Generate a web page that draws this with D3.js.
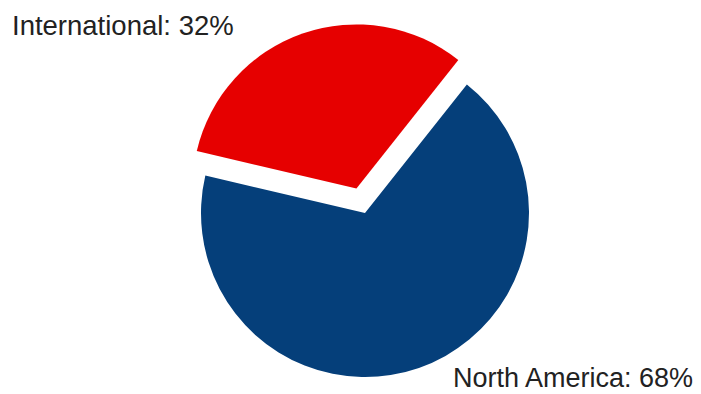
<!DOCTYPE html>
<html><head><meta charset="utf-8">
<script src="https://cdn.jsdelivr.net/npm/d3@7"></script>
<style>html,body{margin:0;padding:0;background:#fff;}</style>
</head><body>
<svg id="chart" width="701" height="394"></svg>
<script>
const categories = ["North America", "International"];
const values = [68, 32];
const colors = ["#053f7a", "#e60000"];
const labels = ["North America: 68%", "International: 32%"];

const svg = d3.select("#chart");
const cx = 365, cy = 213, R = 164, explode = 26;
const start = 38.4 * Math.PI / 180;
const pie = d3.pie().sort(null).value(d => d)
  .startAngle(start)
  .endAngle(start + 2 * Math.PI);
const arcs = pie(values);
const arc = d3.arc().innerRadius(0).outerRadius(R);
const g = svg.append("g").attr("transform", `translate(${cx},${cy})`);
g.selectAll("path").data(arcs).enter().append("path")
  .attr("d", arc)
  .attr("fill", (d, i) => colors[i])
  .attr("transform", (d, i) => {
    if (categories[i] !== "International") return null;
    const a = (d.startAngle + d.endAngle) / 2;
    return `translate(${Math.sin(a) * explode},${-Math.cos(a) * explode})`;
  });

svg.append("text").attr("x", 12).attr("y", 35)
  .attr("font-family", "Liberation Sans, Arial, sans-serif")
  .attr("font-size", 27.5).attr("fill", "#222")
  .text(labels[1]);
svg.append("text").attr("x", 453).attr("y", 387)
  .attr("font-family", "Liberation Sans, Arial, sans-serif")
  .attr("font-size", 27).attr("fill", "#222")
  .text(labels[0]);
</script>
</body></html>
